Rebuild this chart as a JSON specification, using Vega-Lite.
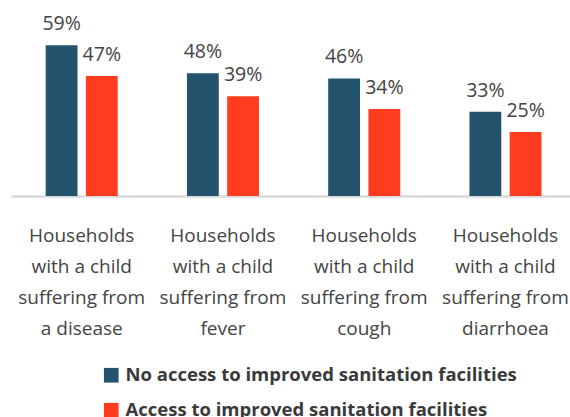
{
  "$schema": "https://vega.github.io/schema/vega-lite/v6.json",
  "width": 559,
  "height": 196,
  "autosize": {"type": "none"},
  "padding": {"left": 11, "top": 0, "right": 0, "bottom": 221},
  "background": "white",
  "config": {"view": {"stroke": null}, "font": "Open Sans"},
  "data": {
    "values": [
      {"cat": "Households|with a child|suffering from|a disease", "grp": "No access to improved sanitation facilities", "value": 59, "label": "59%"},
      {"cat": "Households|with a child|suffering from|a disease", "grp": "Access to improved sanitation facilities", "value": 47, "label": "47%"},
      {"cat": "Households|with a child|suffering from|fever", "grp": "No access to improved sanitation facilities", "value": 48, "label": "48%"},
      {"cat": "Households|with a child|suffering from|fever", "grp": "Access to improved sanitation facilities", "value": 39, "label": "39%"},
      {"cat": "Households|with a child|suffering from|cough", "grp": "No access to improved sanitation facilities", "value": 46, "label": "46%"},
      {"cat": "Households|with a child|suffering from|cough", "grp": "Access to improved sanitation facilities", "value": 34, "label": "34%"},
      {"cat": "Households|with a child|suffering from|diarrhoea", "grp": "No access to improved sanitation facilities", "value": 33, "label": "33%"},
      {"cat": "Households|with a child|suffering from|diarrhoea", "grp": "Access to improved sanitation facilities", "value": 25, "label": "25%"}
    ]
  },
  "encoding": {
    "x": {
      "field": "cat", "type": "nominal", "sort": null,
      "scale": {"paddingInner": 0.49, "paddingOuter": 0.2237, "align": 0.549},
      "axis": {
        "title": null, "labelAngle": 0, "ticks": false,
        "domainColor": "#d9d9d9", "domainWidth": 2.5,
        "labelFontSize": 19, "labelColor": "#444444", "labelLineHeight": 31,
        "labelBaseline": "top", "labelPadding": 30,
        "labelExpr": "split(datum.label, '|')"
      }
    },
    "xOffset": {
      "field": "grp", "type": "nominal",
      "sort": ["No access to improved sanitation facilities", "Access to improved sanitation facilities"],
      "scale": {"paddingInner": 0.209, "paddingOuter": 0}
    },
    "y": {"field": "value", "type": "quantitative", "scale": {"domain": [0, 76.7]}, "axis": null}
  },
  "layer": [
    {
      "mark": {"type": "bar"},
      "encoding": {
        "color": {
          "field": "grp", "type": "nominal",
          "scale": {
            "domain": ["No access to improved sanitation facilities", "Access to improved sanitation facilities"],
            "range": ["#24536E", "#FF3C1F"]
          },
          "legend": {
            "title": null, "orient": "none", "legendX": 91, "legendY": 366,
            "symbolType": "square", "symbolSize": 216, "symbolStrokeWidth": 0, "symbolOpacity": 1,
            "labelFontSize": 18.5, "labelFontWeight": "bold", "labelColor": "#3a3a3a",
            "labelOffset": 5, "rowPadding": 16, "labelLimit": 600
          }
        }
      }
    },
    {
      "mark": {"type": "text", "dy": -15, "baseline": "alphabetic", "fontSize": 19.5, "color": "#444444"},
      "encoding": {"text": {"field": "label"}}
    }
  ]
}
